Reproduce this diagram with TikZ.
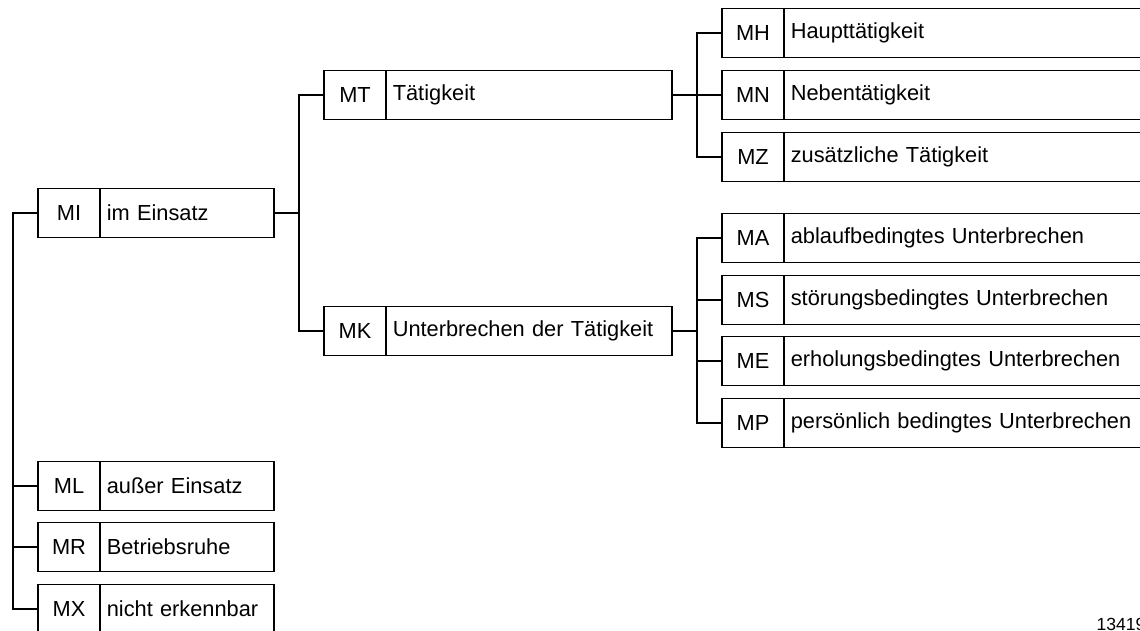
\documentclass[tikz,border=0pt]{standalone}
\usepackage{fontspec}
\setmainfont{Liberation Sans}
\usetikzlibrary{positioning}

\begin{document}
\begin{tikzpicture}[
    x=0.025cm, y=-0.025cm,
    font=\fontsize{15.5}{18}\selectfont,
    line width=0.9pt,
    code/.style={rectangle, draw=black, outer sep=0pt, inner sep=0pt, minimum width=1.55cm, minimum height=1.23cm},
    lbl/.style={rectangle, draw=black, outer sep=0pt, inner xsep=0.17cm, inner ysep=0pt, minimum height=1.23cm, align=left, right=0pt of #1},
    narrow/.style={text width=4.01cm},
    mid/.style={text width=6.81cm},
    wide/.style={text width=9.1cm},
]
\useasboundingbox (0,0) rectangle (1140,631);
\clip (0,0) rectangle (1140,631);

% Ebene 1
\node[code] (mi) at (69,213) {MI};
\node[lbl=mi, narrow] (mi-t) {im Einsatz};
\node[code] (ml) at (69,486) {ML};
\node[lbl=ml, narrow] (ml-t) {außer Einsatz};
\node[code] (mr) at (69,547) {MR};
\node[lbl=mr, narrow] (mr-t) {Betriebsruhe};
\node[code] (mx) at (69,609) {MX};
\node[lbl=mx, narrow] (mx-t) {nicht erkennbar};

% Ebene 2
\node[code] (mt) at (355,95) {MT};
\node[lbl=mt, mid] (mt-t) {Tätigkeit};
\node[code] (mk) at (355,331) {MK};
\node[lbl=mk, mid] (mk-t) {Unterbrechen der Tätigkeit};

% Ebene 3: Tätigkeit
\node[code] (mh) at (753,33) {MH};
\node[lbl=mh, wide] (mh-t) {Haupttätigkeit};
\node[code] (mn) at (753,95) {MN};
\node[lbl=mn, wide] (mn-t) {Nebentätigkeit};
\node[code] (mz) at (753,157) {MZ};
\node[lbl=mz, wide] (mz-t) {zusätzliche Tätigkeit};

% Ebene 3: Unterbrechen
\node[code] (ma) at (753,238) {MA};
\node[lbl=ma, wide] (ma-t) {ablaufbedingtes Unterbrechen};
\node[code] (ms) at (753,300) {MS};
\node[lbl=ms, wide] (ms-t) {störungsbedingtes Unterbrechen};
\node[code] (me) at (753,361) {ME};
\node[lbl=me, wide] (me-t) {erholungsbedingtes Unterbrechen};
\node[code] (mp) at (753,423) {MP};
\node[lbl=mp, wide] (mp-t) {persönlich bedingtes Unterbrechen};

% Verbindungen
\coordinate (tr0) at (13,0);
\coordinate (tr1) at (299,0);
\coordinate (tr2) at (697,0);

\draw (mi.west) -- (mi.west -| tr0) |- (mx.west);
\foreach \n in {ml,mr}
    \draw (\n.west -| tr0) -- (\n.west);

\draw (mi-t.east) -- (mi-t.east -| tr1);
\draw (mt.west) -- (mt.west -| tr1) |- (mk.west);

\draw (mt-t.east) -- (mt-t.east -| tr2);
\draw (mh.west) -- (mh.west -| tr2) |- (mz.west);
\draw (mn.west -| tr2) -- (mn.west);

\draw (mk-t.east) -- (mk-t.east -| tr2);
\draw (ma.west) -- (ma.west -| tr2) |- (mp.west);
\foreach \n in {ms,me}
    \draw (\n.west -| tr2) -- (\n.west);

\node[anchor=base west, inner sep=0pt, font=\fontsize{12.5}{15}\selectfont] (nr) at (1096,630) {13419};
\end{tikzpicture}
\end{document}
